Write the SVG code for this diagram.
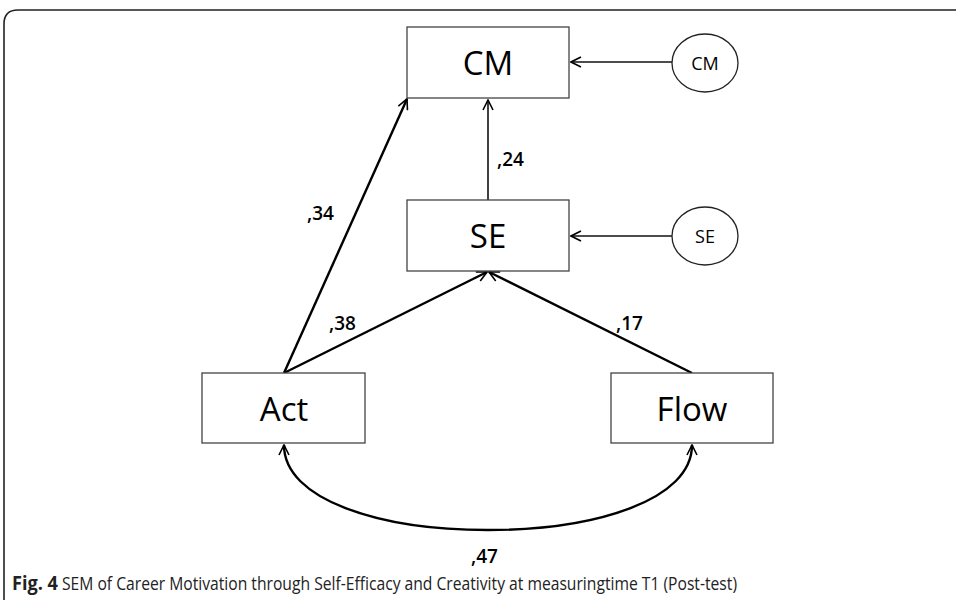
<svg xmlns="http://www.w3.org/2000/svg" width="956" height="600" viewBox="0 0 956 600">
<style>
.box{fill:#fff;stroke:#444;stroke-width:1.3}
.ell{fill:#fff;stroke:#222;stroke-width:1.3}
.big{font-family:"Open Sans","Noto Sans",sans-serif;font-size:33px;fill:#000;text-anchor:middle}
.small{font-family:"Open Sans","Noto Sans",sans-serif;font-size:18px;fill:#000;text-anchor:middle}
.lab{font-family:"Open Sans","Noto Sans",sans-serif;font-size:19px;font-weight:600;fill:#000}
.thin{fill:none;stroke:#111;stroke-width:1.6}
.thick{fill:none;stroke:#000;stroke-width:2.4}
.cap{font-family:"Open Sans","Noto Sans",sans-serif;font-size:19px;fill:#222}
</style>
<defs>
<marker id="ah" viewBox="0 0 12 12" refX="11" refY="6" markerWidth="12" markerHeight="12" markerUnits="userSpaceOnUse" orient="auto-start-reverse">
<path d="M1,1 L11,6 L1,11" fill="none" stroke="#000" stroke-width="1.6"/>
</marker>
</defs>
<path d="M4,600 V24 Q4,10 18,10 H956" fill="none" stroke="#222" stroke-width="1.6"/>
<g id="connectors">
<line class="thin" x1="672" y1="62" x2="571" y2="62" marker-end="url(#ah)"/>
<line class="thin" x1="672" y1="236" x2="571" y2="236" marker-end="url(#ah)"/>
<line class="thin" x1="488" y1="200" x2="488" y2="100" marker-end="url(#ah)"/>
<line class="thick" x1="284" y1="373" x2="407" y2="99" marker-end="url(#ah)"/>
<line class="thick" x1="284" y1="373" x2="487" y2="272" marker-end="url(#ah)"/>
<line class="thick" x1="692" y1="373" x2="489" y2="272" marker-end="url(#ah)"/>
<path class="thick" d="M284,445 C284,500 380,530 488,530 C596,530 692,500 692,445" marker-start="url(#ah)" marker-end="url(#ah)"/>
<text class="lab" x="497" y="166">,24</text>
<text class="lab" x="307" y="220">,34</text>
<text class="lab" x="329" y="330">,38</text>
<text class="lab" x="616" y="330">,17</text>
<text class="lab" x="471" y="563">,47</text>
</g>
<g id="CM">
<rect class="box" x="407" y="27" width="162" height="71"/>
<text class="big" x="488" y="75">CM</text>
</g>
<g id="eCM">
<ellipse class="ell" cx="705" cy="63" rx="33" ry="29"/>
<text class="small" x="705" y="70">CM</text>
</g>
<g id="SE">
<rect class="box" x="407" y="200" width="162" height="71"/>
<text class="big" x="488" y="248">SE</text>
</g>
<g id="eSE">
<ellipse class="ell" cx="705" cy="236" rx="33" ry="29"/>
<text class="small" x="705" y="243">SE</text>
</g>
<g id="Act">
<rect class="box" x="202" y="373" width="163" height="70"/>
<text class="big" x="284" y="421">Act</text>
</g>
<g id="Flow">
<rect class="box" x="611" y="373" width="162" height="70"/>
<text class="big" x="692" y="421">Flow</text>
</g>
<text class="cap" x="12" y="590" font-weight="bold" fill="#000" textLength="46" lengthAdjust="spacingAndGlyphs">Fig. 4</text>
<text class="cap" x="62" y="590" textLength="675" lengthAdjust="spacingAndGlyphs">SEM of Career Motivation through Self-Efficacy and Creativity at measuringtime T1 (Post-test)</text>
</svg>
